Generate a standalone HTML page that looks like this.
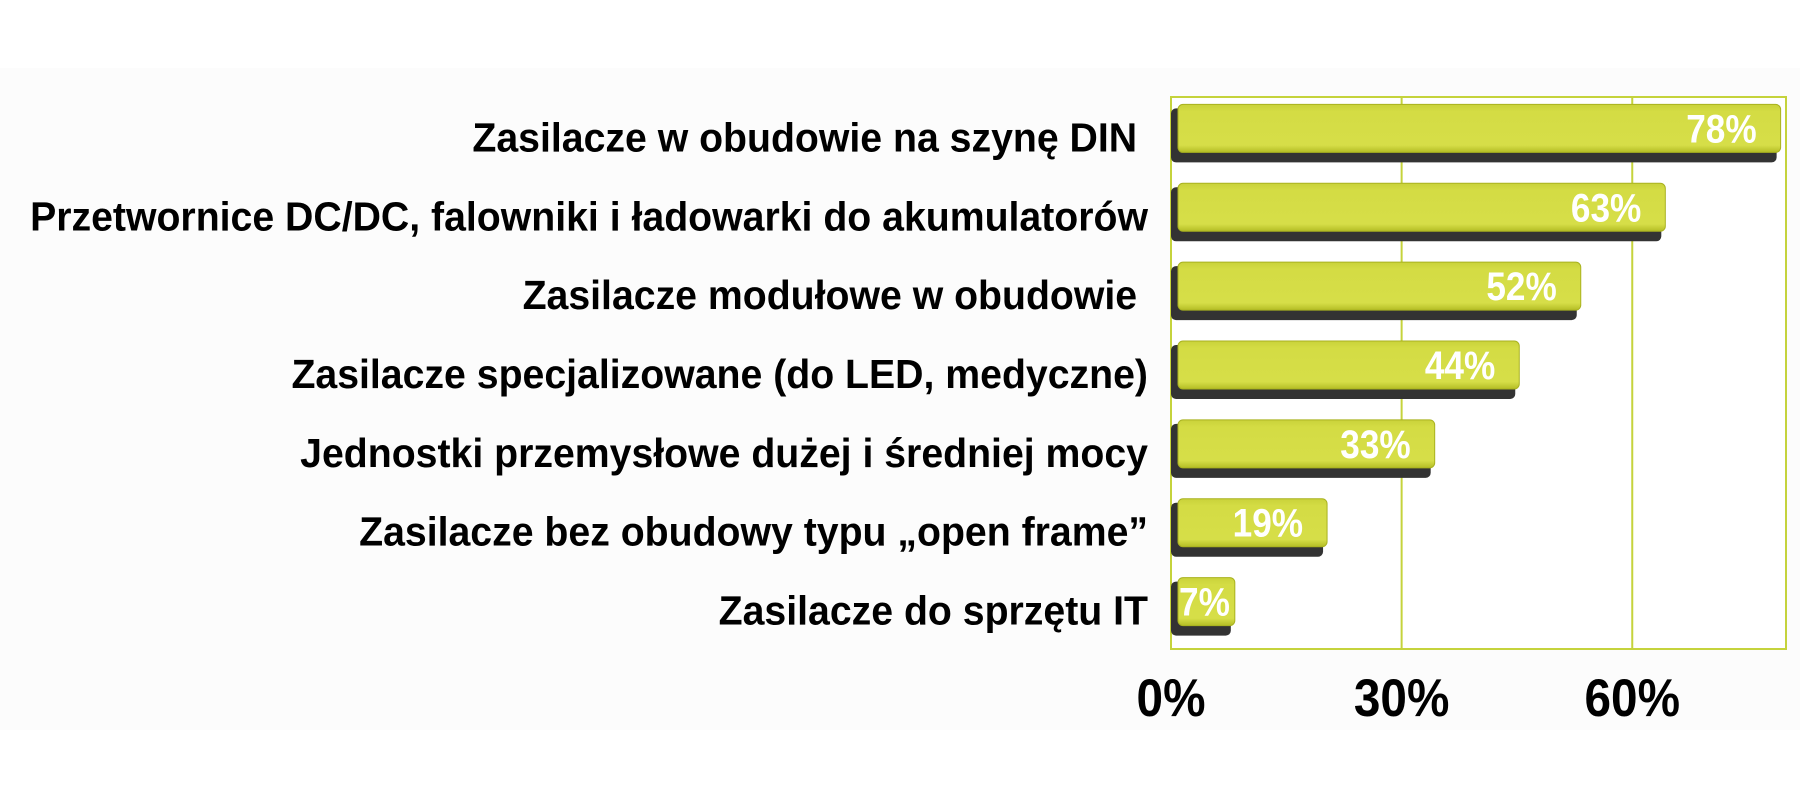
<!DOCTYPE html>
<html><head><meta charset="utf-8"><style>
html,body{margin:0;padding:0;background:#fff;}
svg{display:block;}
text{font-family:"Liberation Sans",Arial,sans-serif;font-weight:bold;}
</style></head><body>
<svg id="chart" width="1800" height="800" viewBox="0 0 1800 800" xmlns="http://www.w3.org/2000/svg">
<defs>
<linearGradient id="face" x1="0" y1="0" x2="0" y2="1">
<stop offset="0" stop-color="#c9d23a"/><stop offset="0.15" stop-color="#d4dc44"/><stop offset="0.85" stop-color="#d6de48"/><stop offset="1" stop-color="#b4bd25"/>
</linearGradient>
</defs>
<rect x="0" y="68" width="1800" height="662" fill="#fcfcfc"/>
<g id="grid"></g>
<g id="bars"></g>
<g id="labels"></g>
<g id="ticks"></g>
</svg>
<script>
const categories = ["Zasilacze w obudowie na szynę DIN\u00a0","Przetwornice DC/DC, falowniki i ładowarki do akumulatorów","Zasilacze modułowe w obudowie\u00a0","Zasilacze specjalizowane (do LED, medyczne)","Jednostki przemysłowe dużej i średniej mocy","Zasilacze bez obudowy typu „open frame”","Zasilacze do sprzętu IT"];
const values = [78,63,52,44,33,19,7];
const valueLabels = ["78%","63%","52%","44%","33%","19%","7%"];
const tickValues = [0,30,60];
const tickLabels = ["0%","30%","60%"];
const axisMax = 80;

const NS="http://www.w3.org/2000/svg";
const L=1171,R=1786,T=97,B=649;
const x=v=>L+(v/axisMax)*(R-L);
const band=(B-T)/categories.length;
const yc=i=>T+band*(i+0.5);
function mk(tag,attrs,parent){const e=document.createElementNS(NS,tag);for(const k in attrs)e.setAttribute(k,attrs[k]);parent.appendChild(e);return e;}
const grid=document.getElementById('grid');
const bars=document.getElementById('bars');
const labels=document.getElementById('labels');
const ticks=document.getElementById('ticks');

const frame=mk('rect',{x:L,y:T,width:R-L,height:B-T,fill:'#ffffff',stroke:'#c5d33c','stroke-width':2},grid);


tickValues.forEach((t,i)=>{
  if(t>0){const g=mk('line',{x1:x(t),x2:x(t),y1:T,y2:B,stroke:'#c5d33c','stroke-width':2},grid);
  
  }
  const tl=mk('text',{x:0,y:0,'text-anchor':'middle','font-size':53,fill:'#000',transform:`translate(${x(t)},716) scale(0.9,1)`},ticks);
  tl.textContent=tickLabels[i];
  
  
});

values.forEach((v,i)=>{
  const c=yc(i), top=c-32, h=56;
  const xe=x(v)+10;
  const g=mk('g',{},bars);
  
  
  mk('rect',{x:L,y:top+4,width:xe-L-4,height:h-2,rx:5,fill:'#333333'},g);
  mk('rect',{x:L+7,y:top,width:xe-L-7,height:h-8,rx:5,fill:'url(#face)',stroke:'#a9b21f','stroke-width':1},g);
  const vx = v<12 ? L+8 : xe-24;
  const vl=mk('text',{x:0,y:0,'text-anchor':v<12?'start':'end','font-size':40,fill:'#ffffff',transform:`translate(${vx},${c+6}) scale(0.88,1)`},g);
  vl.textContent=valueLabels[i];
  
  

  const cl=mk('text',{x:0,y:0,'text-anchor':'end','font-size':41,fill:'#000','xml:space':'preserve',transform:`translate(1148,${c+15}) scale(0.957,1)`},labels);
  cl.textContent=categories[i];
  
  
});
</script>
</body></html>
